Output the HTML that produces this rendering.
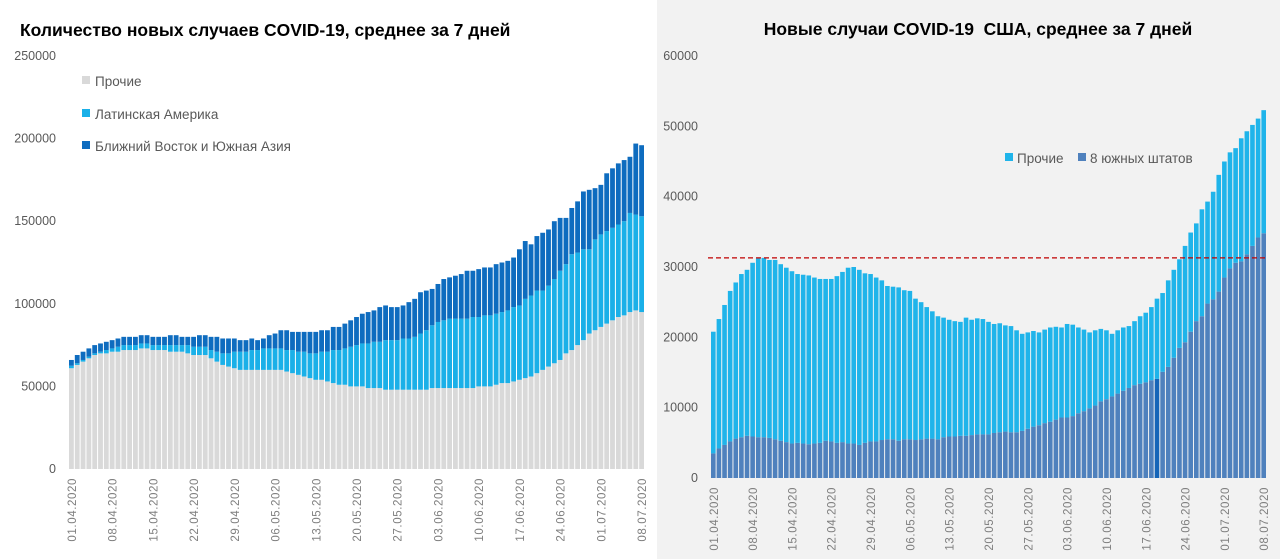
<!DOCTYPE html>
<html><head><meta charset="utf-8"><style>
html,body{margin:0;padding:0;background:#fff;}
svg{display:block;font-family:"Liberation Sans","Noto Sans CJK SC",sans-serif;}
</style></head><body>
<svg id="s" width="1280" height="559" xmlns="http://www.w3.org/2000/svg">
<rect x="657" y="0" width="623" height="559" fill="#f2f2f2"/>
<text x="20" y="36" font-size="17.5" font-weight="bold" fill="#000">Количество новых случаев COVID-19, среднее за 7 дней</text>
<text x="978" y="35" font-size="17.5" font-weight="bold" fill="#000" text-anchor="middle">Новые случаи COVID-19 &#160;США, среднее за 7 дней</text>
<g id="L"></g>
<g id="R"></g>
<g>
<rect x="82" y="76" width="8" height="8" fill="#d9d9d9"/>
<text x="95" y="86" font-size="13.5" fill="#595959">Прочие</text>
<rect x="82" y="109" width="8" height="8" fill="#1ab0e8"/>
<text x="95" y="119" font-size="13.5" fill="#595959">Латинская Америка</text>
<rect x="82" y="141" width="8" height="8" fill="#0e6cbf"/>
<text x="95" y="151" font-size="13.5" fill="#595959">Ближний Восток и Южная Азия</text>
</g>
<g>
<rect x="1005" y="153" width="8" height="8" fill="#1fb4ea"/>
<text x="1017" y="163" font-size="13.5" fill="#595959">Прочие</text>
<rect x="1078" y="153" width="8" height="8" fill="#4f81bd"/>
<text x="1090" y="163" font-size="13.5" fill="#595959">8 южных штатов</text>
</g>
</svg>
<script>
const dates = ["01.04.2020","08.04.2020","15.04.2020","22.04.2020","29.04.2020","06.05.2020","13.05.2020","20.05.2020","27.05.2020","03.06.2020","10.06.2020","17.06.2020","24.06.2020","01.07.2020","08.07.2020"];
const leftTicks = [0,50000,100000,150000,200000,250000];
const rightTicks = [0,10000,20000,30000,40000,50000,60000];
const leftOther = [61,63,65,67,69,70,70,71,71,72, 72,72,73,73,72,72,72,71,71,71, 70,69,69,69,67,65,63,62,61,60, 60,60,60,60,60,60,60,59,58,57, 56,55,54,54,53,52,51,51,50,50, 50,49,49,49,48,48,48,48,48,48, 48,48,49,49,49,49,49,49,49,49, 50,50,50,51,52,52,53,54,55,56, 58,60,62,64,66,70,72,75,78,82, 84,86,88,90,92,93,95,96,95];
const leftLatamTop = [62.5,64,66,68,70,71,72,73,74,75, 75,75,76,76,75,75,75,75,75,75, 75,74,74,74,72,71,70,70,71,71, 71,72,72,73,73,73,73,72,72,71, 71,70,70,71,71,72,72,73,74,75, 76,76,77,77,78,78,78,79,79,80, 82,84,87,89,90,91,91,91,91,92, 92,93,93,94,95,96,98,99,103,105, 108,108,111,115,120,124,130,131,133,133, 139,142,144,146,148,150,155,154,153];
const leftTotal = [66,69,71,73,75,76,77,78,79,80, 80,80,81,81,80,80,80,81,81,80, 80,80,81,81,80,80,79,79,79,78, 78,79,78,79,81,82,84,84,83,83, 83,83,83,84,84,86,86,88,90,92, 94,95,96,98,99,98,98,99,101,103, 107,108,109,112,115,116,117,118,120,120, 121,122,122,124,125,126,128,133,138,136, 141,143,145,150,152,152,158,162,168,169, 170,172,179,182,185,187,189,197,196];
const rightSouth = [3.5,4.2,4.7,5.2,5.6,5.8,6.0,5.9,5.8,5.8, 5.7,5.5,5.3,5.1,4.9,5.0,4.9,4.8,4.9,5.0, 5.3,5.2,5.0,5.1,4.9,4.9,4.7,5.0,5.2,5.2, 5.4,5.5,5.5,5.3,5.5,5.5,5.4,5.5,5.6,5.6, 5.5,5.8,5.9,5.9,6.0,6.0,6.1,6.2,6.2,6.2, 6.4,6.5,6.6,6.5,6.5,6.7,7.0,7.3,7.5,7.8, 8.0,8.3,8.6,8.6,8.8,9.2,9.5,9.9,10.3,10.9, 11.2,11.6,12.0,12.4,12.8,13.2,13.4,13.6,13.9,14.1, 15.1,15.8,17.1,18.5,19.3,20.8,22.3,23.0,24.8,25.4, 26.5,28.5,29.8,30.6,30.8,31.8,33.0,34.2,34.8];
const rightTotal = [20.8,22.6,24.6,26.6,27.8,29.0,29.6,30.6,31.2,31.3, 31.0,31.0,30.4,29.9,29.4,29.0,28.9,28.8,28.5,28.3, 28.3,28.3,28.7,29.3,29.9,30.0,29.6,29.1,29.0,28.5, 28.1,27.3,27.2,27.1,26.7,26.6,25.5,25.0,24.3,23.7, 23.0,22.8,22.5,22.3,22.2,22.8,22.5,22.7,22.6,22.2, 21.9,22.0,21.7,21.6,21.0,20.5,20.7,20.9,20.7,21.1, 21.4,21.5,21.4,21.9,21.8,21.4,21.1,20.7,21.0,21.2, 21.0,20.5,21.0,21.4,21.6,22.3,23.0,23.5,24.3,25.5, 26.3,28.1,29.6,31.1,33.0,34.9,36.2,38.2,39.3,40.7, 43.1,45.0,46.3,46.9,48.3,49.3,50.2,51.1,52.3];
const refLine = 31.3;
const highlightIndex = 79;

const NS = "http://www.w3.org/2000/svg";
function mk(parent, tag, attrs){const e=document.createElementNS(NS,tag);for(const k in attrs)e.setAttribute(k,attrs[k]);parent.appendChild(e);return e;}

function chart(g, cfg){
  const n = cfg.n;
  const step = (cfg.x1-cfg.x0)/n;
  const xs = i => cfg.x0 + i*step;
  const ys = v => cfg.y0 - v/cfg.max*(cfg.y0-cfg.yTop);
  cfg.ticks.forEach(t=>{
    const tx = mk(g,'text',{x:cfg.labelX,y:ys(t*1)+4,'font-size':12.5,fill:'#595959','text-anchor':'end'});
    tx.textContent = t;
    
    
  });
  for(let i=0;i<n;i++){
    let prev=0;
    cfg.layers.forEach(L=>{
      const top = L.vals[i]*1000;
      const h = ys(prev)-ys(top);
      const r = mk(g,'rect',{x:xs(i),y:ys(top),width:step-1,height:Math.max(0,h),fill:(L.hi===i?L.hiColor:L.color)});
      
      
      prev = top;
    });
  }
  cfg.dates.forEach((d,k)=>{
    const cx = xs(k*7)+step/2+4;
    const tx = mk(g,'text',{x:0,y:0,'font-size':11.5,fill:'#7f7f7f','text-anchor':'end','letter-spacing':'0.6',transform:`translate(${cx},${cfg.labelY}) rotate(-90)`});
    tx.textContent = d;
    
    
  });
  return {xs,ys,step};
}

const gl = document.getElementById('L');
chart(gl,{n:leftTotal.length,x0:69,x1:645,y0:469,yTop:56,max:250000,ticks:leftTicks,labelX:56,labelY:478,dates:dates,
  layers:[{name:'other',vals:leftOther,color:'#d9d9d9'},{name:'latam',vals:leftLatamTop,color:'#1ab0e8'},{name:'mideast',vals:leftTotal,color:'#0e6cbf'}]});

const gr = document.getElementById('R');
const a = chart(gr,{n:rightTotal.length,x0:711,x1:1267,y0:478,yTop:56,max:60000,ticks:rightTicks,labelX:698,labelY:487,dates:dates,
  layers:[{name:'south',vals:rightSouth,color:'#4f81bd',hi:highlightIndex,hiColor:'#1565b8'},{name:'us-other',vals:rightTotal,color:'#1fb4ea'}]});
const ln = mk(gr,'line',{x1:708,x2:1268,y1:a.ys(refLine*1000),y2:a.ys(refLine*1000),stroke:'#c00000','stroke-width':1.3,'stroke-dasharray':'5,3'});


</script>
</body></html>
